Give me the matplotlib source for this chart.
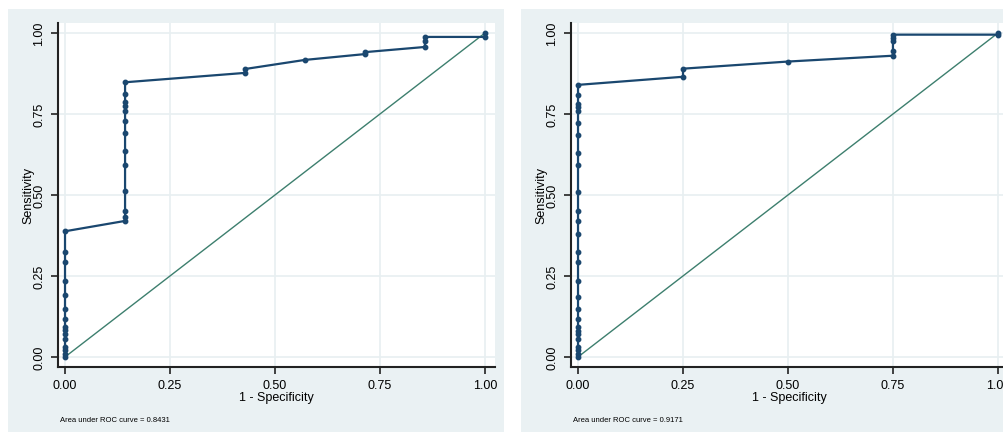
import matplotlib
matplotlib.use('Agg')
import matplotlib.pyplot as plt
from matplotlib.patches import Rectangle

plt.rcParams['font.family'] = ['Liberation Sans Narrow', 'Liberation Sans', 'DejaVu Sans']

# left panel ROC points (1 - specificity, sensitivity)
fpr_a = [0, 0, 0, 0, 0, 0, 0, 0, 0, 0, 0, 0, 0, 0, 0,
         0.143, 0.143, 0.143, 0.143, 0.143, 0.143, 0.143, 0.143, 0.143, 0.143, 0.143, 0.143, 0.143,
         0.429, 0.429, 0.571, 0.714, 0.714, 0.857, 0.857, 0.857, 1.0, 1.0]
tpr_a = [0.0, 0.009, 0.02, 0.03, 0.056, 0.071, 0.083, 0.092, 0.117, 0.148, 0.191, 0.236, 0.292, 0.323, 0.388,
         0.42, 0.431, 0.45, 0.512, 0.594, 0.635, 0.69, 0.727, 0.76, 0.776, 0.786, 0.812, 0.848,
         0.877, 0.889, 0.917, 0.935, 0.941, 0.957, 0.975, 0.988, 0.988, 1.0]
auc_a = '0.8431'

# right panel ROC points
fpr_b = [0] * 27 + [0.25, 0.25, 0.5, 0.75, 0.75, 0.75, 0.75, 0.75, 1.0, 1.0]
tpr_b = [0.0, 0.009, 0.02, 0.03, 0.056, 0.071, 0.081, 0.092, 0.117, 0.148, 0.186, 0.236, 0.292, 0.323, 0.38,
         0.421, 0.45, 0.51, 0.593, 0.63, 0.685, 0.722, 0.76, 0.771, 0.781, 0.81, 0.84,
         0.865, 0.89, 0.912, 0.93, 0.945, 0.975, 0.985, 0.995, 0.995, 1.0]
auc_b = '0.9171'

ticks = [0, 0.25, 0.5, 0.75, 1.0]
tick_labels = ['0.00', '0.25', '0.50', '0.75', '1.00']

bg = '#EAF1F3'
navy = '#1A476F'
green = '#3D7F6E'
grid = '#E8EFF1'

fig = plt.figure(figsize=(10.04, 4.35), dpi=100)
W, H = 1004.0, 435.0

# grey panel backgrounds
fig.patches.append(Rectangle((8 / W, 2 / H), 496 / W, 423 / H, transform=fig.transFigure,
                             facecolor=bg, edgecolor='none', zorder=-5))
fig.patches.append(Rectangle((521 / W, 2 / H), 483 / W, 423 / H, transform=fig.transFigure,
                             facecolor=bg, edgecolor='none', zorder=-5))


def roc_panel(left, fpr, tpr, auc):
    ax = fig.add_axes([left / W, 67 / H, 437 / W, 344 / H])
    ax.set_zorder(2)
    ax.set_facecolor('white')
    ax.set_xlim(-0.0167, 1.024)
    ax.set_ylim(-0.031, 1.031)
    ax.plot([0, 1], [0, 1], color=green, lw=1.0, zorder=2)
    ax.plot(fpr, tpr, color=navy, lw=1.6, marker='o', ms=3.2, zorder=3, clip_on=False)
    ax.set_xticks(ticks)
    ax.set_xticklabels(tick_labels)
    ax.set_yticks(ticks)
    ax.set_yticklabels(tick_labels, rotation=90, va='center')
    ax.grid(True, color=grid, lw=1.2)
    ax.set_axisbelow(True)
    for s in ['top', 'right']:
        ax.spines[s].set_visible(False)
    for s in ['left', 'bottom']:
        ax.spines[s].set_linewidth(1.5)
        ax.spines[s].set_color('#222222')
    ax.tick_params(length=5, width=1.2, labelsize=9, pad=4, color='#222222')
    ax.set_xlabel('1 - Specificity', fontsize=9, labelpad=0)
    ax.set_ylabel('Sensitivity', fontsize=9, labelpad=-1)
    fig.text((left + 2) / W, 1 - 421 / H, 'Area under ROC curve = ' + auc,
             fontsize=5.5, va='center', ha='left')
    return ax


roc_panel(58, fpr_a, tpr_a, auc_a)
roc_panel(571, fpr_b, tpr_b, auc_b)

fig.savefig('out.png', dpi=100, facecolor='white')
